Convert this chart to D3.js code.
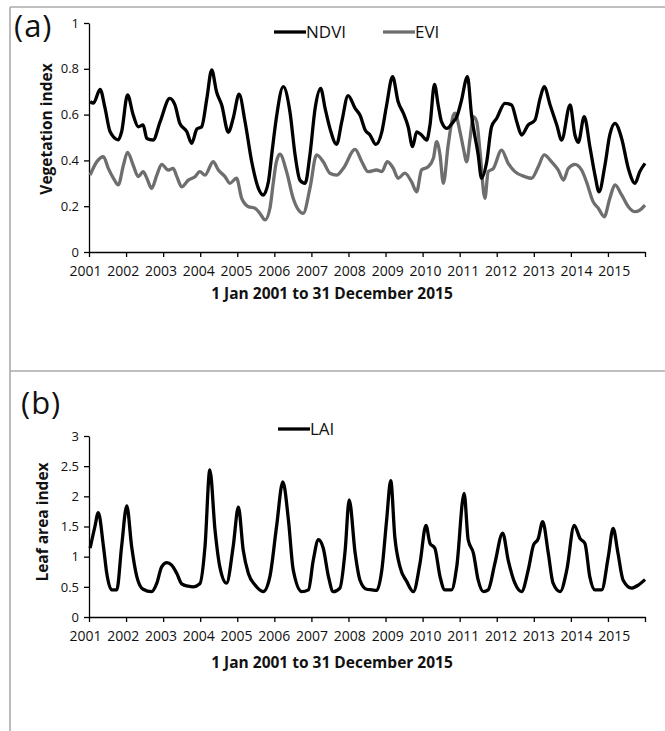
<!DOCTYPE html>
<html>
<head>
<meta charset="utf-8">
<script src="https://cdn.jsdelivr.net/npm/d3@7/dist/d3.min.js"></script>
<style>
  html, body { margin: 0; padding: 0; background: #fff; }
  svg { display: block; }
  text { font-family: "Open Sans", "Liberation Sans", sans-serif; fill: #111; }
</style>
</head>
<body>
<svg id="chart" width="665" height="731"></svg>
<script>
// Year ticks shared by both panels (2016 closes the axis, unlabelled)
const yearTicks = [2001, 2002, 2003, 2004, 2005, 2006, 2007, 2008, 2009, 2010, 2011, 2012, 2013, 2014, 2015, 2016];
const yearLabels = ["2001", "2002", "2003", "2004", "2005", "2006", "2007", "2008", "2009", "2010", "2011", "2012", "2013", "2014", "2015", ""];
const viTicks = [0, 0.2, 0.4, 0.6, 0.8, 1];
const laiTicks = [0, 0.5, 1, 1.5, 2, 2.5, 3];

// NDVI time series (decimal year, value)
const ndviYear = [2001.03, 2001.12, 2001.30, 2001.43, 2001.57, 2001.79, 2001.88, 2002.04, 2002.19, 2002.33, 2002.46, 2002.56, 2002.73, 2002.92,
  2003.18, 2003.32, 2003.45, 2003.64, 2003.77, 2003.91, 2004.04, 2004.18, 2004.31, 2004.44, 2004.58, 2004.76, 2004.89, 2005.05,
  2005.21, 2005.39, 2005.57, 2005.70, 2005.84, 2005.94, 2006.05, 2006.24, 2006.42, 2006.56, 2006.69, 2006.83, 2006.96, 2007.10,
  2007.25, 2007.37, 2007.50, 2007.68, 2007.82, 2007.99, 2008.18, 2008.31, 2008.45, 2008.58, 2008.74, 2008.90, 2009.03, 2009.19,
  2009.34, 2009.48, 2009.61, 2009.73, 2009.84, 2009.97, 2010.11, 2010.20, 2010.32, 2010.42, 2010.51, 2010.65, 2010.83, 2010.92,
  2011.04, 2011.21, 2011.32, 2011.50, 2011.59, 2011.73, 2011.86, 2012.00, 2012.22, 2012.40, 2012.54, 2012.67, 2012.85, 2013.03,
  2013.17, 2013.28, 2013.44, 2013.62, 2013.75, 2013.98, 2014.11, 2014.20, 2014.36, 2014.52, 2014.65, 2014.76, 2014.92, 2015.05,
  2015.19, 2015.37, 2015.55, 2015.73, 2015.86, 2016.00];
const ndviValue = [0.656, 0.650, 0.710, 0.630, 0.525, 0.490, 0.525, 0.686, 0.600, 0.547, 0.555, 0.496, 0.489, 0.569,
  0.671, 0.642, 0.562, 0.525, 0.475, 0.537, 0.547, 0.671, 0.795, 0.700, 0.642, 0.523, 0.584, 0.689,
  0.569, 0.394, 0.278, 0.249, 0.307, 0.440, 0.580, 0.722, 0.613, 0.424, 0.314, 0.300, 0.424, 0.627,
  0.714, 0.627, 0.540, 0.470, 0.569, 0.683, 0.627, 0.598, 0.533, 0.511, 0.470, 0.525, 0.642, 0.766,
  0.656, 0.606, 0.547, 0.460, 0.525, 0.511, 0.489, 0.555, 0.732, 0.642, 0.569, 0.540, 0.569, 0.590,
  0.656, 0.766, 0.598, 0.424, 0.322, 0.394, 0.547, 0.584, 0.649, 0.642, 0.569, 0.511, 0.555, 0.576,
  0.671, 0.722, 0.642, 0.555, 0.489, 0.642, 0.511, 0.479, 0.591, 0.453, 0.336, 0.263, 0.380, 0.511,
  0.562, 0.496, 0.365, 0.300, 0.351, 0.387];

// EVI time series (decimal year, value)
const eviYear = [2001.03, 2001.21, 2001.39, 2001.52, 2001.66, 2001.79, 2001.93, 2002.04, 2002.19, 2002.33, 2002.46, 2002.56, 2002.69, 2002.83,
  2002.96, 2003.14, 2003.27, 2003.37, 2003.50, 2003.68, 2003.86, 2003.99, 2004.13, 2004.35, 2004.49, 2004.67, 2004.80, 2004.98,
  2005.12, 2005.30, 2005.48, 2005.61, 2005.75, 2005.88, 2005.97, 2006.05, 2006.15, 2006.33, 2006.51, 2006.78, 2006.96, 2007.14,
  2007.32, 2007.50, 2007.68, 2007.86, 2008.18, 2008.36, 2008.53, 2008.76, 2008.90, 2009.05, 2009.21, 2009.34, 2009.52, 2009.70,
  2009.84, 2009.97, 2010.15, 2010.29, 2010.38, 2010.47, 2010.56, 2010.69, 2010.83, 2010.87, 2011.01, 2011.10, 2011.19, 2011.28,
  2011.37, 2011.46, 2011.55, 2011.68, 2011.77, 2011.91, 2012.13, 2012.31, 2012.49, 2012.76, 2012.94, 2013.12, 2013.28, 2013.48,
  2013.66, 2013.80, 2013.93, 2014.11, 2014.29, 2014.42, 2014.60, 2014.74, 2014.90, 2015.05, 2015.19, 2015.37, 2015.55, 2015.73,
  2015.86, 2016.00];
const eviValue = [0.336, 0.394, 0.416, 0.365, 0.322, 0.293, 0.380, 0.435, 0.380, 0.329, 0.351, 0.322, 0.278, 0.336,
  0.383, 0.358, 0.365, 0.329, 0.285, 0.314, 0.329, 0.351, 0.336, 0.394, 0.358, 0.329, 0.300, 0.322,
  0.234, 0.198, 0.191, 0.169, 0.140, 0.190, 0.300, 0.390, 0.427, 0.351, 0.234, 0.169, 0.278, 0.424,
  0.394, 0.344, 0.336, 0.365, 0.448, 0.394, 0.351, 0.358, 0.351, 0.394, 0.365, 0.322, 0.344, 0.307,
  0.263, 0.358, 0.372, 0.409, 0.482, 0.424, 0.300, 0.467, 0.598, 0.606, 0.525, 0.453, 0.394, 0.496,
  0.591, 0.569, 0.438, 0.234, 0.351, 0.365, 0.445, 0.387, 0.351, 0.329, 0.322, 0.372, 0.424, 0.394,
  0.358, 0.314, 0.365, 0.383, 0.358, 0.307, 0.220, 0.191, 0.154, 0.234, 0.293, 0.249, 0.198, 0.176,
  0.183, 0.205];

// LAI time series (decimal year, value)
const laiYear = [2001.03, 2001.16, 2001.25, 2001.39, 2001.48, 2001.61, 2001.75, 2001.88, 2002.02, 2002.15, 2002.29, 2002.46, 2002.69, 2002.83,
  2002.96, 2003.10, 2003.23, 2003.37, 2003.50, 2003.68, 2003.81, 2003.99, 2004.13, 2004.26, 2004.40, 2004.53, 2004.71, 2004.89,
  2005.03, 2005.16, 2005.30, 2005.48, 2005.70, 2005.88, 2006.06, 2006.23, 2006.38, 2006.51, 2006.74, 2006.92, 2007.05, 2007.19,
  2007.32, 2007.46, 2007.59, 2007.77, 2007.91, 2008.02, 2008.18, 2008.31, 2008.49, 2008.63, 2008.76, 2008.90, 2009.03, 2009.14,
  2009.25, 2009.39, 2009.57, 2009.75, 2009.93, 2010.09, 2010.20, 2010.33, 2010.47, 2010.60, 2010.78, 2010.92, 2011.12, 2011.23,
  2011.37, 2011.50, 2011.64, 2011.77, 2011.95, 2012.16, 2012.31, 2012.49, 2012.67, 2012.85, 2012.99, 2013.12, 2013.24, 2013.39,
  2013.52, 2013.71, 2013.89, 2014.09, 2014.25, 2014.38, 2014.51, 2014.65, 2014.83, 2015.01, 2015.14, 2015.27, 2015.41, 2015.64,
  2015.82, 2016.00];
const laiValue = [1.14, 1.50, 1.73, 1.17, 0.72, 0.45, 0.45, 1.17, 1.84, 1.17, 0.67, 0.46, 0.42, 0.56,
  0.83, 0.90, 0.86, 0.72, 0.55, 0.51, 0.50, 0.55, 1.17, 2.44, 1.44, 0.83, 0.56, 1.17,
  1.82, 1.11, 0.72, 0.53, 0.42, 0.67, 1.50, 2.24, 1.61, 0.78, 0.42, 0.45, 0.94, 1.28,
  1.14, 0.67, 0.42, 0.48, 1.10, 1.94, 1.06, 0.61, 0.46, 0.45, 0.44, 0.78, 1.61, 2.26,
  1.33, 0.83, 0.59, 0.42, 0.89, 1.52, 1.22, 1.14, 0.67, 0.45, 0.45, 0.83, 2.05, 1.28,
  1.06, 0.61, 0.42, 0.45, 0.89, 1.39, 0.94, 0.56, 0.42, 0.78, 1.19, 1.30, 1.58, 1.06,
  0.56, 0.42, 0.78, 1.52, 1.30, 1.22, 0.67, 0.45, 0.45, 1.00, 1.47, 1.06, 0.61, 0.48,
  0.53, 0.62];

const svg = d3.select("#chart");
const zip = (xs, ys) => xs.map((t, i) => [t, ys[i]]);

// Panel frames
const frame = svg.append("g").attr("stroke", "#ababab").attr("stroke-width", 1.6).attr("fill", "none");
frame.append("line").attr("x1", 10).attr("x2", 665).attr("y1", 7).attr("y2", 7);
frame.append("line").attr("x1", 10).attr("x2", 665).attr("y1", 371).attr("y2", 371);
frame.append("line").attr("x1", 10).attr("x2", 10).attr("y1", 7).attr("y2", 731);

const x = d3.scaleLinear().domain([2001, 2016]).range([89, 645]);

function drawPanel(cfg) {
  const g = svg.append("g");
  const y = d3.scaleLinear().domain(cfg.domain).range(cfg.range);

  const xAxis = d3.axisBottom(x)
    .tickValues(yearTicks)
    .tickFormat((d, i) => yearLabels[i])
    .tickSize(5).tickSizeOuter(0).tickPadding(9);
  const gx = g.append("g").attr("transform", `translate(0,${cfg.range[0]})`).call(xAxis);
  // year labels fan out slightly wider than the tick spacing
  gx.selectAll("text")
    .style("font-size", "14px").attr("fill", "#222")
    .attr("dx", (d, i) => -4 + i * 0.7);

  const yAxis = d3.axisLeft(y)
    .tickValues(cfg.ticks)
    .tickFormat(d => String(d))
    .tickSize(5).tickSizeOuter(0).tickPadding(5);
  const gy = g.append("g").attr("transform", `translate(${x.range()[0]},0)`).call(yAxis);
  gy.selectAll("text").style("font-size", "13px").attr("fill", "#222");

  g.selectAll(".domain, .tick line").attr("stroke", "#000").attr("stroke-width", 1.3);

  const line = d3.line().x(d => x(d[0])).y(d => y(d[1])).curve(d3.curveMonotoneX);
  cfg.series.forEach(s => {
    g.append("path")
      .datum(zip(s.t, s.v))
      .attr("fill", "none")
      .attr("stroke", s.color)
      .attr("stroke-width", 3.3)
      .attr("stroke-linejoin", "round")
      .attr("d", line);
  });

  // Legend entries
  cfg.legend.forEach(l => {
    g.append("line").attr("x1", l.x).attr("x2", l.x + 32).attr("y1", l.y).attr("y2", l.y)
      .attr("stroke", l.color).attr("stroke-width", 3.3);
    g.append("text").attr("x", l.x + 32).attr("y", l.y + 6)
      .style("font-size", "17px").text(l.label);
  });

  g.append("text").attr("x", cfg.tagX).attr("y", cfg.tagY)
    .style("font-size", "31px").style("letter-spacing", "1px").text(cfg.tag);

  g.append("text")
    .attr("transform", `translate(${cfg.yTitleX},${cfg.yTitleY}) rotate(-90)`)
    .attr("text-anchor", "middle")
    .style("font-size", "15.5px").style("font-weight", "bold")
    .text(cfg.yTitle);

  g.append("text").attr("x", 332).attr("y", cfg.xTitleY)
    .attr("text-anchor", "middle")
    .style("font-size", "15.5px").style("font-weight", "bold")
    .text("1 Jan 2001 to 31 December 2015");
}

drawPanel({
  domain: [0, 1], range: [252, 23], ticks: viTicks,
  series: [
    { t: eviYear, v: eviValue, color: "#6e6e6e" },
    { t: ndviYear, v: ndviValue, color: "#000" }
  ],
  legend: [
    { x: 274, y: 32, label: "NDVI", color: "#000" },
    { x: 383, y: 32, label: "EVI", color: "#6e6e6e" }
  ],
  tag: "(a)", tagX: 14, tagY: 37,
  yTitle: "Vegetation index", yTitleX: 52, yTitleY: 129,
  xTitleY: 299
});

drawPanel({
  domain: [0, 3], range: [617, 436], ticks: laiTicks,
  series: [{ t: laiYear, v: laiValue, color: "#000" }],
  legend: [{ x: 278, y: 429, label: "LAI", color: "#000" }],
  tag: "(b)", tagX: 21, tagY: 414,
  yTitle: "Leaf area index", yTitleX: 48, yTitleY: 522,
  xTitleY: 668
});
</script>
</body>
</html>
